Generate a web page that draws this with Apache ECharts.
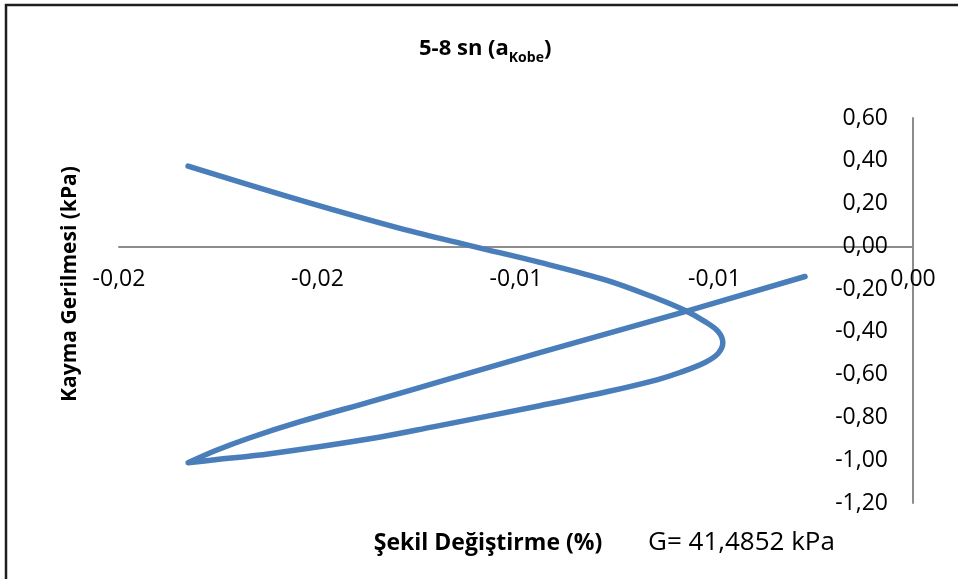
<!DOCTYPE html>
<html>
<head>
<meta charset="utf-8">
<script src="https://cdn.jsdelivr.net/npm/echarts@6/dist/echarts.min.js"></script>
<style>
  html, body { margin: 0; padding: 0; background: #ffffff; }
  #chart { width: 958px; height: 579px; }
</style>
</head>
<body>
<div id="chart"></div>
<script>
// Shear strain (%) and shear stress (kPa) for the 5-8 s window, traced in order
const strain = [
  -0.01826, -0.01544, -0.01292, -0.01108, -0.00940, -0.00771, -0.00645, -0.00574,
  -0.00524, -0.00491, -0.00479, -0.00491, -0.00524, -0.00587, -0.00645, -0.00771,
  -0.00940, -0.01209, -0.01368, -0.01620, -0.01758, -0.01826, -0.01758, -0.01670,
  -0.01544, -0.01368, -0.01166, -0.00940, -0.00574, -0.00272
];
const stress = [
   0.375,  0.216,  0.084,  0.000, -0.075, -0.159, -0.244, -0.300,
  -0.352, -0.398, -0.450, -0.501, -0.543, -0.590, -0.624, -0.680,
  -0.745, -0.844, -0.900, -0.970, -0.998, -1.012, -0.956, -0.895,
  -0.820, -0.727, -0.619, -0.497, -0.305, -0.141
];

// Tick labels as printed (two decimals, comma separator)
const xTickLabels = ['-0,02', '-0,02', '-0,01', '-0,01', '0,00'];
const yTickLabels = ['-1,20', '-1,00', '-0,80', '-0,60', '-0,40', '-0,20', '0,00', '0,20', '0,40', '0,60'];

const chartTitle = '5-8 sn (a';
const chartTitleSub = 'Kobe';
const xAxisTitle = 'Şekil Değiştirme (%)';
const yAxisTitle = 'Kayma Gerilmesi (kPa)';
const modulusNote = 'G= 41,4852 kPa';

const points = strain.map((x, i) => [x, stress[i]]);

const FONT = '"Open Sans", "Noto Sans", sans-serif';
const GRID = { left: 119, right: 45, top: 118, bottom: 76 };
const Y_MIN = -1.2, Y_MAX = 0.6;
// Distance from the plot's bottom edge up to the zero line, so the x axis sits on y = 0
const plotH = 579 - GRID.top - GRID.bottom;
const zeroLift = plotH * (0 - Y_MIN) / (Y_MAX - Y_MIN);

const chart = echarts.init(document.getElementById('chart'), null, { renderer: 'canvas' });

chart.setOption({
  animation: false,
  backgroundColor: '#ffffff',
  title: {
    text: '{m|' + chartTitle + '}{s|' + chartTitleSub + '}{m|)}',
    left: 414,
    top: 28,
    textStyle: {
      rich: {
        m: { fontFamily: FONT, fontWeight: 'bold', fontSize: 22, color: '#000', lineHeight: 32, verticalAlign: 'middle' },
        s: { fontFamily: FONT, fontWeight: 'bold', fontSize: 14, color: '#000', lineHeight: 32, verticalAlign: 'bottom' }
      }
    }
  },
  grid: { left: GRID.left, right: GRID.right, top: GRID.top, bottom: GRID.bottom, containLabel: false },
  xAxis: {
    type: 'value',
    min: -0.02,
    max: 0,
    interval: 0.005,
    position: 'bottom',
    offset: -zeroLift,
    axisLine: { show: true, onZero: false, lineStyle: { color: '#8c8c8c', width: 2 } },
    axisTick: { show: false },
    splitLine: { show: false },
    axisLabel: {
      margin: 22,
      fontFamily: FONT,
      fontSize: 23,
      color: '#000',
      showMinLabel: true,
      showMaxLabel: true,
      formatter: (v, i) => xTickLabels[i]
    }
  },
  yAxis: {
    type: 'value',
    position: 'right',
    min: Y_MIN,
    max: Y_MAX,
    interval: 0.2,
    axisLine: { show: true, onZero: false, lineStyle: { color: '#8c8c8c', width: 2 } },
    axisTick: { show: false },
    splitLine: { show: false },
    axisLabel: {
      inside: true,
      margin: 25,
      fontFamily: FONT,
      fontSize: 23,
      color: '#000',
      formatter: (v, i) => yTickLabels[i]
    }
  },
  series: [{
    type: 'line',
    data: points,
    smooth: 0.35,
    showSymbol: false,
    lineStyle: { color: '#4A7EBB', width: 5.5, cap: 'round', join: 'round' },
    z: 3
  }],
  graphic: [
    {
      type: 'rect',
      shape: { x: 6, y: 5, width: 1200, height: 1000 },
      style: { fill: 'none', stroke: '#1e1e1e', lineWidth: 2.5 },
      silent: true
    },
    {
      type: 'text',
      x: 70, y: 284,
      rotation: Math.PI / 2,
      style: {
        text: yAxisTitle,
        font: 'bold 21px ' + FONT,
        fill: '#000',
        align: 'center',
        verticalAlign: 'middle'
      }
    },
    {
      type: 'text',
      x: 488, y: 543,
      style: {
        text: xAxisTitle,
        font: 'bold 23px ' + FONT,
        fill: '#000',
        align: 'center',
        verticalAlign: 'middle'
      }
    },
    {
      type: 'text',
      x: 648, y: 543,
      style: {
        text: modulusNote,
        font: '26px ' + FONT,
        fill: '#000',
        align: 'left',
        verticalAlign: 'middle'
      }
    }
  ]
});
</script>
</body>
</html>
